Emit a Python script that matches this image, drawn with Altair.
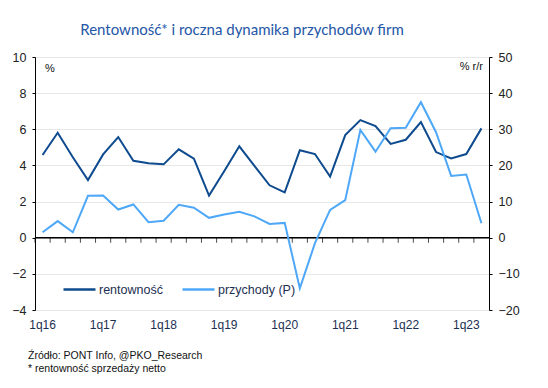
import altair as alt
import pandas as pd

# --- data -------------------------------------------------------------
lata = ["16", "17", "18", "19", "20", "21", "22", "23"]
kwartaly = [f"{q}q{r}" for r in lata for q in (1, 2, 3, 4)][:30]

rentownosc = [4.58, 5.81, 4.45, 3.19, 4.61, 5.57, 4.26, 4.12, 4.06, 4.89,
              4.37, 2.33, 3.68, 5.06, 3.97, 2.90, 2.51, 4.84, 4.63, 3.38,
              5.68, 6.51, 6.18, 5.19, 5.42, 6.40, 4.74, 4.39, 4.63, 6.05]
przychody = [1.5, 4.6, 1.5, 11.6, 11.7, 7.8, 9.2, 4.3, 4.7, 9.1,
             8.3, 5.5, 6.4, 7.2, 5.9, 3.8, 4.1, -14.0, -1.5, 7.7,
             10.4, 29.8, 23.8, 30.3, 30.4, 37.5, 29.2, 17.1, 17.5, 4.0]

serie = ["rentowność", "przychody (P)"]
kolory = ["#0d4a8e", "#4ea8f7"]
etykiety_x = [k for k in kwartaly if k.startswith("1q")]
lewe_ticki = [-4, -2, 0, 2, 4, 6, 8, 10]
prawe_ticki = [-20, -10, 0, 10, 20, 30, 40, 50]

df_r = pd.DataFrame({"kwartal": kwartaly, "wartosc": rentownosc, "seria": serie[0]})
df_p = pd.DataFrame({"kwartal": kwartaly, "wartosc": przychody, "seria": serie[1]})
df_t = pd.DataFrame({"kwartal": kwartaly})
df_1 = pd.DataFrame({"a": [0]})

W, H = 454, 253
FONT = "Liberation Sans"

xscale = alt.Scale(domain=kwartaly, paddingInner=0, paddingOuter=0)
xaxis = alt.Axis(values=etykiety_x, labelAngle=0, domain=False, ticks=False,
                 grid=False, labelPadding=9, labelFont=FONT, labelFontSize=12,
                 labelColor="#1c2f52", title=None)
x_enc = alt.X("kwartal:O", sort=kwartaly, scale=xscale, title=None, axis=xaxis)
color_enc = alt.Color("seria:N", title=None,
                      scale=alt.Scale(domain=serie, range=kolory),
                      legend=alt.Legend(orient="none", legendX=27, legendY=215,
                                        direction="horizontal", symbolType="stroke",
                                        symbolSize=1024, symbolStrokeWidth=2.5,
                                        labelFont=FONT, labelFontSize=12.5,
                                        labelColor="#1c2f52", labelOffset=2,
                                        columnPadding=14))

lscale = alt.Scale(domain=[-4, 10], nice=False, zero=False)
rscale = alt.Scale(domain=[-20, 50], nice=False, zero=False)
laxis = alt.Axis(values=lewe_ticki, orient="left", grid=True, gridColor="#e8e8e8",
                 domainColor="black", tickColor="black", tickSize=3,
                 labelPadding=6, labelFont=FONT, labelFontSize=12.5,
                 labelColor="#222222", title=None)

line_r = alt.Chart(df_r).mark_line(strokeWidth=2).encode(
    x=x_enc,
    y=alt.Y("wartosc:Q", scale=lscale, title=None, axis=laxis),
    color=color_enc,
)

zero_rule = alt.Chart(df_1).mark_rule(color="black", strokeWidth=1.5).encode(
    y=alt.datum(0, scale=lscale, axis=laxis, title=None),
    x=alt.value(0), x2=alt.value(W),
)

x_ticks = alt.Chart(df_t).mark_tick(color="black", orient="vertical", size=5,
                                    thickness=1, yOffset=2.5).encode(
    x=alt.X("kwartal:O", sort=kwartaly, scale=xscale, bandPosition=0, axis=xaxis,
            title=None),
    y=alt.datum(0, scale=lscale, axis=laxis, title=None),
)

def tekst(t, x, y, align, size=11):
    return alt.Chart(df_1).mark_text(text=t, font=FONT, fontSize=size, color="#111111",
                                     align=align, baseline="middle").encode(
        x=alt.value(x), y=alt.value(y))

pct_l = tekst("%", 15, 12, "center")
pct_r = tekst("% r/r", 448, 10, "right")
zrodlo = tekst("Źródło: PONT Info, @PKO_Research", -7, 299, "left", 10.5)
przyp = tekst("* rentowność sprzedaży netto", -7, 312, "left", 10.5)

lewa = alt.layer(line_r, zero_rule, x_ticks, pct_l, pct_r, zrodlo, przyp)

line_p = alt.Chart(df_p).mark_line(strokeWidth=2).encode(
    x=x_enc,
    y=alt.Y("wartosc:Q", scale=rscale, title=None,
            axis=alt.Axis(values=prawe_ticki, orient="right", grid=False,
                          domainColor="black", tickColor="black", tickSize=3,
                          labelPadding=6, labelFont=FONT, labelFontSize=12.5,
                          labelColor="#222222")),
    color=color_enc,
)

chart = alt.layer(lewa, line_p).resolve_scale(y="independent").properties(
    width=W, height=H,
    autosize=alt.AutoSizeParams(type="none"),
    padding={"left": 27, "top": 49, "right": 51, "bottom": 70},
    title=alt.TitleParams("Rentowność* i roczna dynamika przychodów firm",
                          font="Lato", fontSize=15, fontWeight="normal",
                          color="#2456a6", anchor="middle", dx=-20, offset=13),
).configure_view(stroke=None)

chart.save("out.html", embed_options={"renderer": "svg", "actions": False})
